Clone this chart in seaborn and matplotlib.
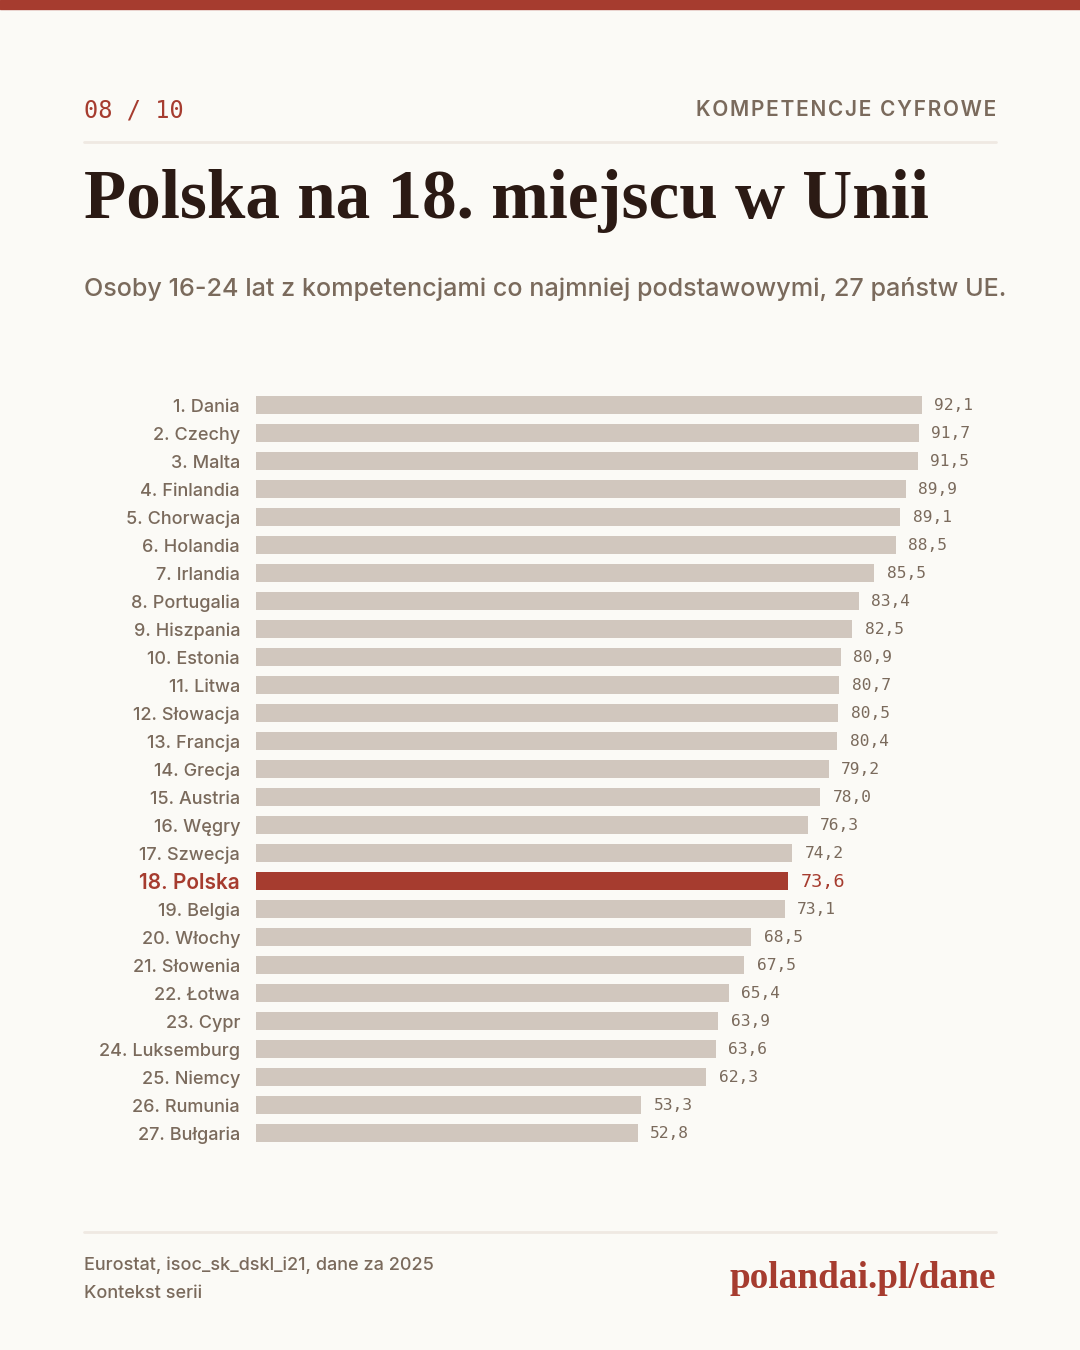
import matplotlib
matplotlib.use("Agg")
import matplotlib.pyplot as plt
import seaborn as sns
import pandas as pd

countries = ["Dania", "Czechy", "Malta", "Finlandia", "Chorwacja", "Holandia", "Irlandia",
             "Portugalia", "Hiszpania", "Estonia", "Litwa", "Słowacja", "Francja", "Grecja",
             "Austria", "Węgry", "Szwecja", "Polska", "Belgia", "Włochy", "Słowenia", "Łotwa",
             "Cypr", "Luksemburg", "Niemcy", "Rumunia", "Bułgaria"]
values = [92.1, 91.7, 91.5, 89.9, 89.1, 88.5, 85.5, 83.4, 82.5, 80.9, 80.7, 80.5, 80.4, 79.2,
          78.0, 76.3, 74.2, 73.6, 73.1, 68.5, 67.5, 65.4, 63.9, 63.6, 62.3, 53.3, 52.8]
highlight = "Polska"

title = "Polska na 18. miejscu w Unii"
subtitle = "Osoby 16-24 lat z kompetencjami co najmniej podstawowymi, 27 państw UE."
kicker_left = "08 / 10"
kicker_right = "KOMPETENCJE CYFROWE"
source_line1 = "Eurostat, isoc_sk_dskl_i21, dane za 2025"
source_line2 = "Kontekst serii"
brand = "polandai.pl/dane"

BG = "#fbfaf6"
RED = "#a63c2f"
GREY_BAR = "#d1c7be"
TXT = "#7a6a5c"
DARK = "#2b1a14"
RULE = "#efe9e2"

labels = [f"{i+1}. {c}" for i, c in enumerate(countries)]
df = pd.DataFrame({"label": labels, "value": values,
                   "group": ["hl" if c == highlight else "base" for c in countries]})

sns.set_theme(style="white")
plt.rcParams["font.family"] = ["Inter", "DejaVu Sans"]

W, H = 1080, 1350
fig = plt.figure(figsize=(W / 100, H / 100), dpi=100, facecolor=BG)

def fx(px):
    return px / W

def fy(py):
    return 1 - py / H

# top red band
fig.patches.append(plt.Rectangle((0, fy(9)), 1, 9 / H, transform=fig.transFigure,
                                 color=RED, zorder=0))
# rules
for yy in (142, 1232):
    fig.add_artist(plt.Line2D([fx(84), fx(996)], [fy(yy), fy(yy)], transform=fig.transFigure,
                              color=RULE, lw=2))

fig.text(fx(84), fy(110), kicker_left, family=["DejaVu Sans Mono"], fontsize=17,
         color=RED, va="center", ha="left")
# letter-spaced kicker: one text, spacing via hair spaces between characters
spaced = "\u200a".join(kicker_right)
fig.text(fx(996), fy(110), spaced, family=["Inter", "DejaVu Sans"], fontsize=15,
         color=TXT, va="center", ha="right", fontweight="semibold")
fig.text(fx(84), fy(218), title, family=["Liberation Serif", "DejaVu Serif"], fontsize=49.8,
         color=DARK, va="baseline", ha="left", fontweight="bold")
fig.text(fx(84), fy(289), subtitle, family=["Inter", "DejaVu Sans"], fontsize=18.1,
         color=TXT, va="center", ha="left", fontweight="medium")
fig.text(fx(84), fy(1265), source_line1, fontsize=13, color=TXT, va="center", ha="left",
         fontweight="medium")
fig.text(fx(84), fy(1293), source_line2, fontsize=13, color=TXT, va="center", ha="left",
         fontweight="medium")
fig.text(fx(996), fy(1288), brand, family=["Liberation Serif", "DejaVu Serif"], fontsize=26.8,
         color=RED, va="baseline", ha="right", fontweight="bold")

top_px, bot_px = 391, 1147
ax = fig.add_axes([fx(256), fy(bot_px), fx(996) - fx(256), (bot_px - top_px) / H])
ax.set_facecolor(BG)
sns.barplot(data=df, x="value", y="label", hue="group", palette={"base": GREY_BAR, "hl": RED},
            dodge=False, legend=False, width=0.62, orient="h", ax=ax, saturation=1,
            linewidth=0)
ax.set_xlim(0, 102.35)
ax.set_ylim(len(df) - 0.5, -0.5)
for s in ax.spines.values():
    s.set_visible(False)
ax.set_xticks([])
ax.set_xlabel("")
ax.set_ylabel("")
ax.tick_params(axis="y", length=0, pad=11.5)
for tl, c in zip(ax.get_yticklabels(), countries):
    if c == highlight:
        tl.set_color(RED)
        tl.set_fontsize(15)
        tl.set_fontweight("semibold")
    else:
        tl.set_color(TXT)
        tl.set_fontsize(13)
        tl.set_fontweight("medium")

for i, (v, c) in enumerate(zip(values, countries)):
    is_hl = c == highlight
    ax.annotate(f"{v:.1f}".replace(".", ","), (v, i), xytext=(9, -0.5), textcoords="offset points",
                va="center", ha="left", family=["DejaVu Sans Mono"],
                fontsize=13.3 if is_hl else 11.7, color=RED if is_hl else TXT)

fig.savefig("out.png", dpi=100, facecolor=BG)
